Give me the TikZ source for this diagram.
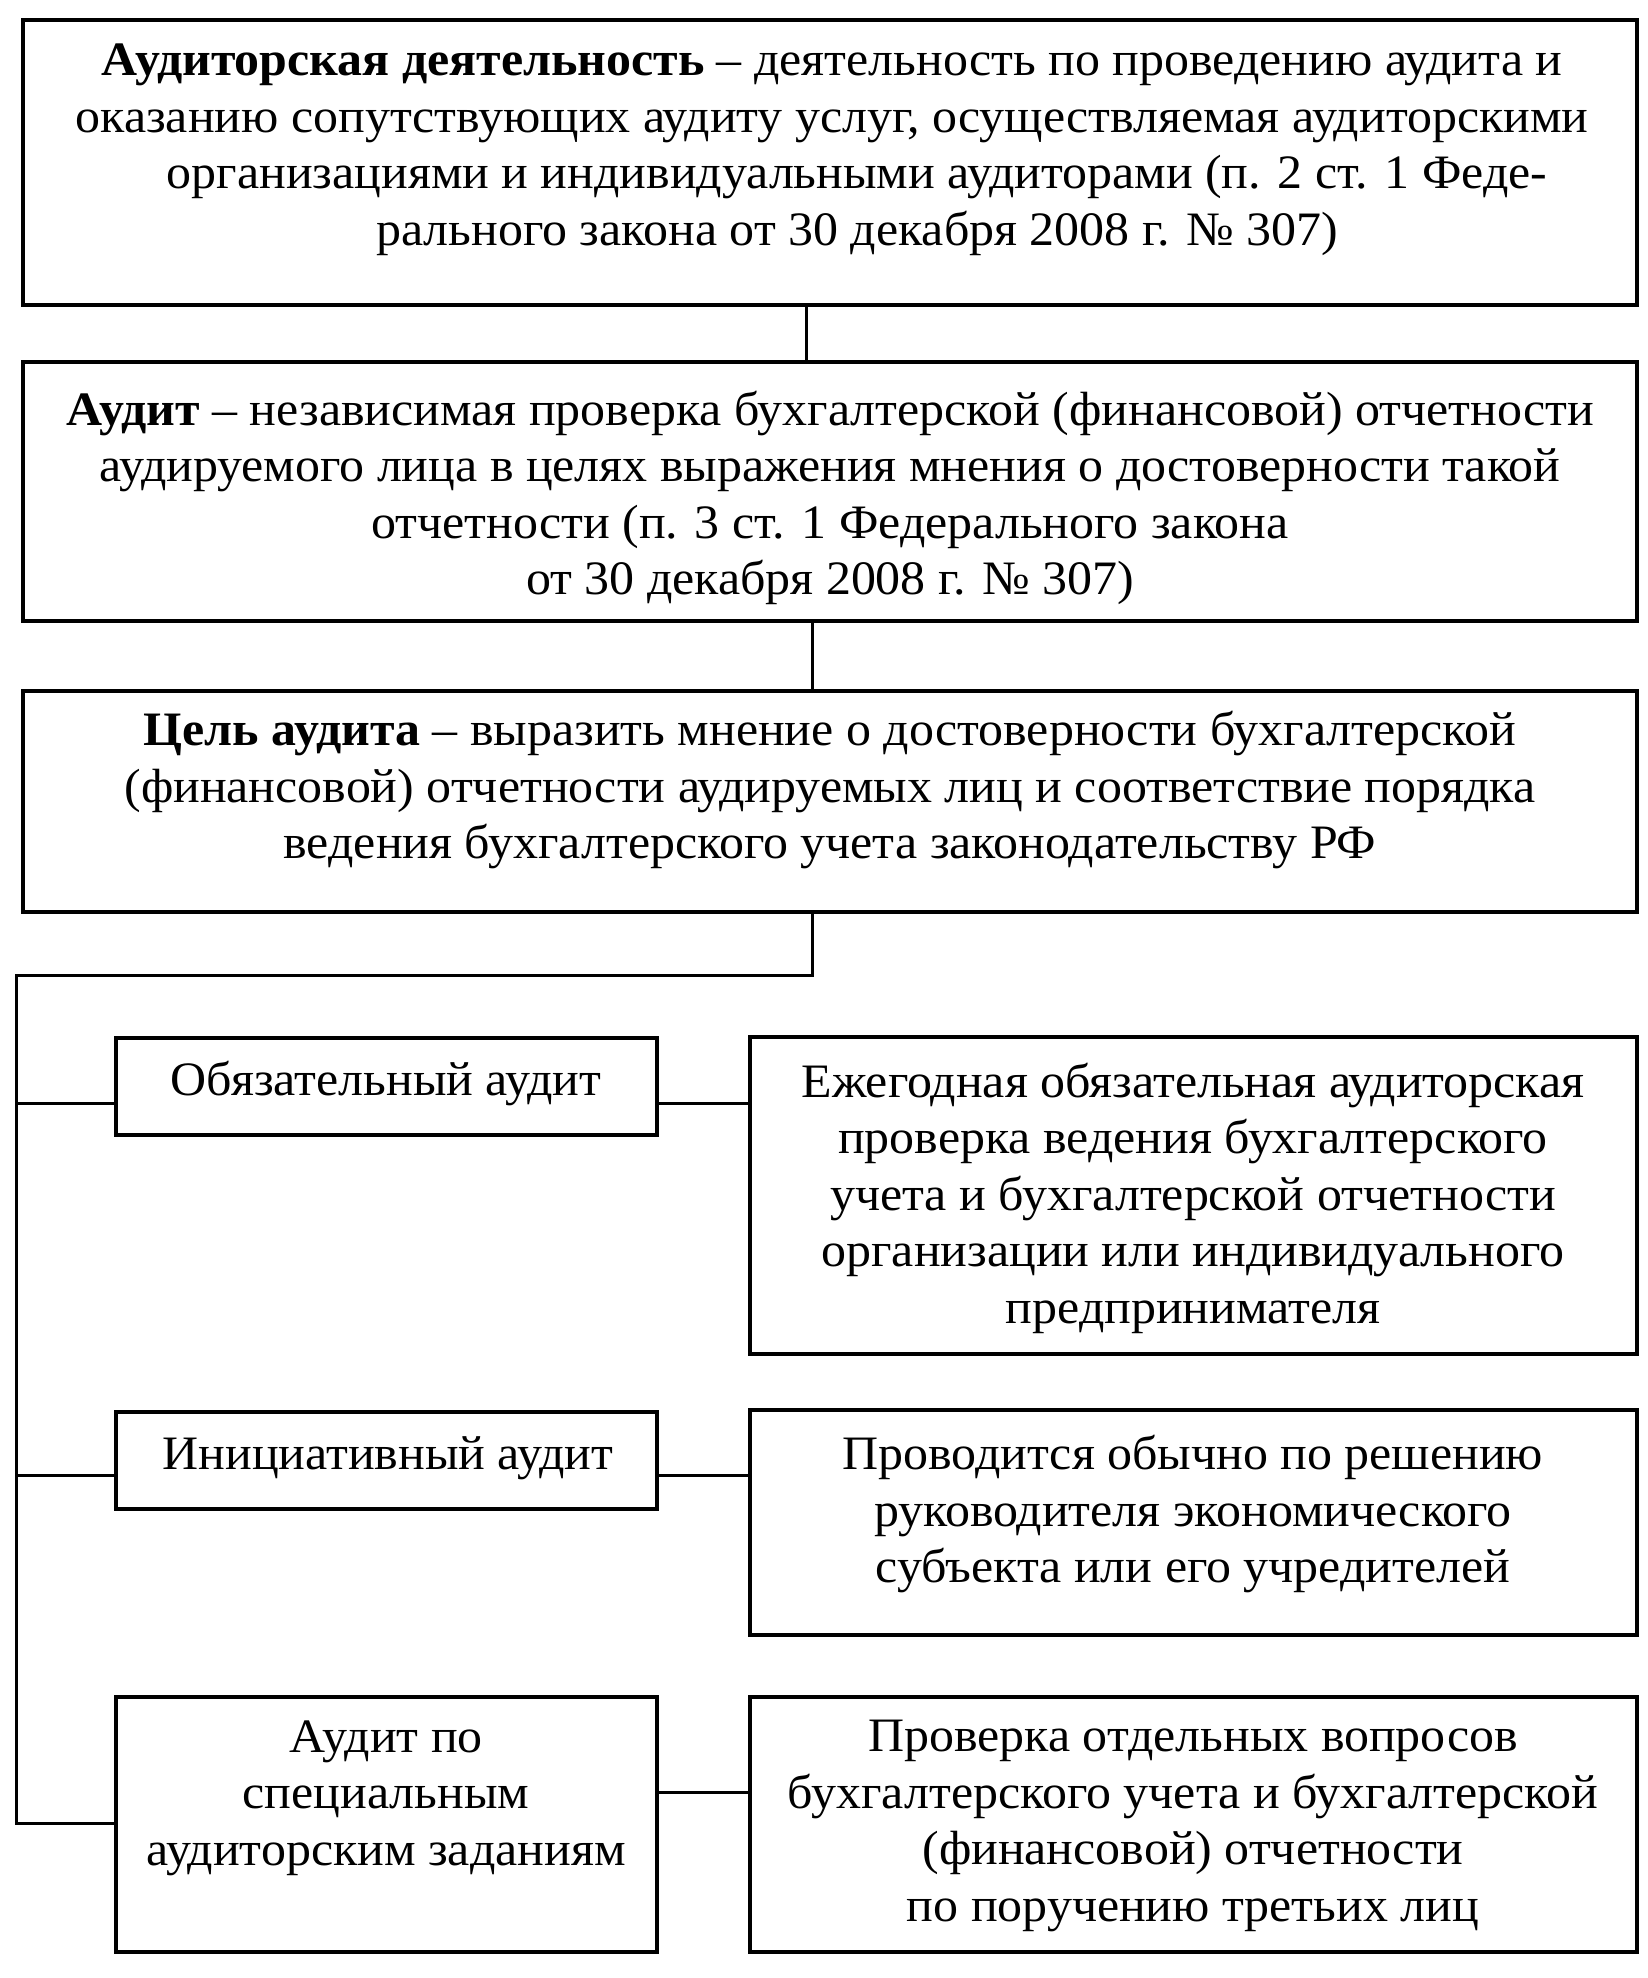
\documentclass[tikz,border=0pt]{standalone}
\usepackage{fontspec}
\setmainfont{Liberation Serif}[FakeStretch=1.04]
\begin{document}
\begin{tikzpicture}[x=1pt,y=-1pt,
  box/.style={draw, line width=3.5pt, inner sep=0pt, outer sep=0pt, anchor=north west},
  conn/.style={draw, line width=3pt, line join=miter},
  txt/.style={align=center, inner sep=0pt, font=\fontsize{48}{56.5}\selectfont}]
\useasboundingbox (0,0) rectangle (1647,1978);
% boxes
\node[box, minimum width=1614pt, minimum height=285pt] (b1) at (23,20) {};
\node[box, minimum width=1614pt, minimum height=259pt] (b2) at (23,362) {};
\node[box, minimum width=1614pt, minimum height=221pt] (b3) at (23,691) {};
\node[box, minimum width=541pt, minimum height=97pt] (l1) at (116,1038) {};
\node[box, minimum width=887pt, minimum height=317pt] (r1) at (750,1037) {};
\node[box, minimum width=541pt, minimum height=97pt] (l2) at (116,1412) {};
\node[box, minimum width=887pt, minimum height=225pt] (r2) at (750,1410) {};
\node[box, minimum width=541pt, minimum height=255pt] (l3) at (116,1697) {};
\node[box, minimum width=887pt, minimum height=255pt] (r3) at (750,1697) {};
% texts
\node[txt] (t1) at (832,150) {\textbf{Аудиторская деятельность} – деятельность по проведению аудита и\\
оказанию сопутствующих аудиту услуг, осуществляемая аудиторскими\\
\hspace*{50pt}организациями и индивидуальными аудиторами (п. 2 ст. 1 Феде-\\
\hspace*{50pt}рального закона от 30 декабря 2008 г. № 307)};
\node[txt] (t2) at (830,498) {\textbf{Аудит} – независимая проверка бухгалтерской (финансовой) отчетности\\
аудируемого лица в целях выражения мнения о достоверности такой\\
отчетности (п. 3 ст. 1 Федерального закона\\
от 30 декабря 2008 г. № 307)};
\node[txt] (t3) at (830,790) {\textbf{Цель аудита} – выразить мнение о достоверности бухгалтерской\\
(финансовой) отчетности аудируемых лиц и соответствие порядка\\
ведения бухгалтерского учета законодательству РФ};
\node[txt] (tl1) at (386,1083) {Обязательный аудит};
\node[txt] (tl2) at (388,1458) {Инициативный аудит};
\node[txt] (tl3) at (386,1798) {Аудит по\\ специальным\\ аудиторским заданиям};
\node[txt] (tr1) at (1193,1198) {Ежегодная обязательная аудиторская\\
проверка ведения бухгалтерского\\
учета и бухгалтерской отчетности\\
организации или индивидуального\\
предпринимателя};
\node[txt] (tr2) at (1193,1514) {Проводится обычно по решению\\
руководителя экономического\\
субъекта или его учредителей};
\node[txt] (tr3) at (1193,1826) {Проверка отдельных вопросов\\
бухгалтерского учета и бухгалтерской\\
(финансовой) отчетности\\
по поручению третьих лиц};
% connectors
\coordinate (c1) at (806,0);
\coordinate (c2) at (812,0);
\coordinate (trunk) at (16,975);
\coordinate (j1) at (16,1103);
\coordinate (j2) at (16,1475);
\coordinate (j3) at (16,1823);
\coordinate (k3) at (0,1792);
\draw[conn] (b1.south -| c1) -- (b2.north -| c1);
\draw[conn] (b2.south -| c2) -- (b3.north -| c2);
\draw[conn] (b3.south -| c2) |- (trunk) -- (j3) -- (l3.west |- j3);
\draw[conn] (j1) -- (l1.west |- j1);
\draw[conn] (j2) -- (l2.west |- j2);
\draw[conn] (l1.east |- j1) -- (r1.west |- j1);
\draw[conn] (l2.east |- j2) -- (r2.west |- j2);
\draw[conn] (l3.east |- k3) -- (r3.west |- k3);
\end{tikzpicture}
\end{document}
